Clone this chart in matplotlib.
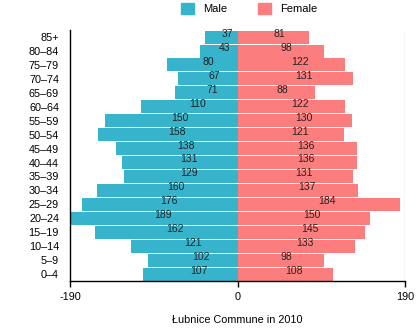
import matplotlib
matplotlib.use('Agg')
import matplotlib.pyplot as plt
from matplotlib.patches import Patch

plt.rcParams['font.family'] = ['Liberation Sans', 'DejaVu Sans']

# population by age group, bottom to top
ages = ['0–4', '5–9', '10–14', '15–19', '20–24', '25–29', '30–34', '35–39', '40–44',
        '45–49', '50–54', '55–59', '60–64', '65–69', '70–74', '75–79', '80–84', '85+']
male = [107, 102, 121, 162, 189, 176, 160, 129, 131, 138, 158, 150, 110, 71, 67, 80, 43, 37]
female = [108, 98, 133, 145, 150, 184, 137, 131, 136, 136, 121, 130, 122, 88, 131, 122, 98, 81]
x_ticks = [-190, 0, 190]
title = 'Łubnice Commune in 2010'

male_color = '#37b3cb'
female_color = '#fb7d7d'

fig = plt.figure(figsize=(4.2, 3.31), dpi=100)
ax = fig.add_axes([0.167, 0.151, 0.797, 0.758])

pos = list(range(len(ages)))
ax.barh(pos, [-m for m in male], height=0.93, color=male_color, linewidth=0)
ax.barh(pos, female, height=0.93, color=female_color, linewidth=0)

# value labels start at the middle of each bar
for i in pos:
    ax.text(-male[i] / 2, i + 0.22, str(male[i]), ha='left', va='center', fontsize=7.5, color='#222222')
    ax.text(female[i] / 2, i + 0.22, str(female[i]), ha='left', va='center', fontsize=7.5, color='#222222')

ax.set_xlim(-190, 190)
ax.set_ylim(-0.5, len(ages) - 0.5)
ax.set_yticks(pos)
ax.set_yticklabels(ages, fontsize=7.8)
ax.tick_params(axis='y', length=0, pad=8)
ax.set_xticks(x_ticks)
ax.set_xticklabels([str(t) for t in x_ticks], fontsize=7.8)
ax.tick_params(axis='x', length=4, width=1, pad=4)

ax.axvline(190, color='#dddddd', lw=1, zorder=0)
ax.spines['top'].set_visible(False)
ax.spines['right'].set_visible(False)
ax.spines['left'].set_linewidth(1)
ax.spines['bottom'].set_linewidth(1)

ax.set_xlabel(title, fontsize=7.8, labelpad=9)

handles = [Patch(color=male_color, label='Male'), Patch(color=female_color, label='Female')]
fig.legend(handles=handles, loc='center', bbox_to_anchor=(0.593, 0.973), ncol=2,
           frameon=False, fontsize=8, handlelength=1.17, handleheight=1.08,
           handletextpad=0.8, columnspacing=2.8, borderpad=0)

fig.savefig('out.png', dpi=100)
